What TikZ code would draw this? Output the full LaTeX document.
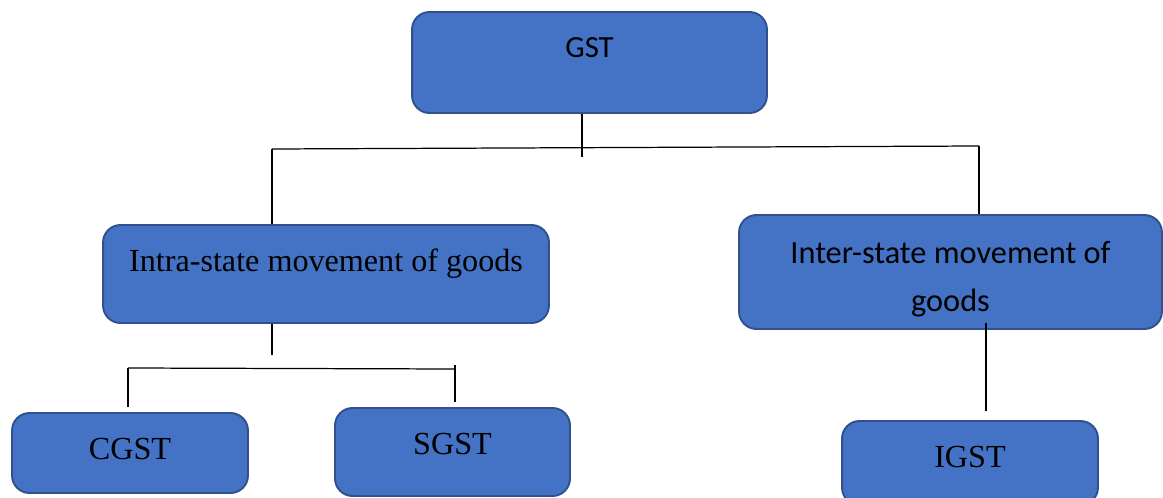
\documentclass[tikz,border=0pt]{standalone}
\usepackage{fontspec}
\setmainfont{Liberation Serif}
\newfontfamily\calibri{Carlito}
\definecolor{boxblue}{HTML}{4472C4}
\definecolor{boxedge}{HTML}{2F528F}

\begin{document}
\begin{tikzpicture}[x=0.02cm, y=-0.02cm,
    box/.style={draw=boxedge, fill=boxblue, line width=1.1pt, rounded corners=0.35cm, inner sep=0pt},
    sanslabel/.style={font=\calibri\fontsize{17.5}{27}\selectfont},
    seriflabel/.style={font=\fontsize{18.3}{22}\selectfont, text height=0.43cm},
    wire/.style={black, line width=0.7pt}]
    \clip (0,0) rectangle (1163,497);
    \node[box, sanslabel, text height=0.39cm, text depth=0.58cm, minimum width=7.1cm, minimum height=2.02cm] (gst) at (589.5,62.5) {GST};
    \node[box, seriflabel, text depth=0.55cm, minimum width=8.92cm, minimum height=1.96cm] (intra) at (326,274) {Intra-state movement of goods};
    \node[box, sanslabel, font=\calibri\fontsize{18.4}{27.2}\selectfont, align=center, minimum width=8.46cm, minimum height=2.28cm] (inter) at (950.5,272) {\rule{0pt}{0.72cm}Inter-state movement of\\goods};
    \node[box, seriflabel, text depth=0.19cm, minimum width=4.72cm, minimum height=1.6cm] (cgst) at (130,453) {CGST};
    \node[box, seriflabel, text depth=0.35cm, minimum width=4.7cm, minimum height=1.76cm] (sgst) at (452.5,452) {SGST};
    \node[box, seriflabel, text depth=0.27cm, minimum width=5.12cm, minimum height=1.68cm] (igst) at (970,463) {IGST};
    \coordinate (gstdrop) at (582,157);
    \coordinate (topleft) at (272,149);
    \coordinate (topright) at (979,146);
    \coordinate (intradrop) at (272,355);
    \coordinate (lowleft) at (128,368);
    \coordinate (lowright) at (455,369);
    \coordinate (cgstend) at (128,407);
    \coordinate (sgsttop) at (455,365);
    \coordinate (sgstend) at (455,402);
    \coordinate (igstend) at (986,411);
    \draw[wire] (gst.south -| gstdrop) -- (gstdrop);
    \draw[wire] (topleft) -- (topright);
    \draw[wire] (topleft) -- (intra.north -| topleft);
    \draw[wire] (topright) -- (inter.north -| topright);
    \draw[wire] (intra.south -| intradrop) -- (intradrop);
    \draw[wire] (lowleft) -- (lowright);
    \draw[wire] (lowleft) -- (cgstend);
    \draw[wire] (sgsttop) -- (sgstend);
    \draw[wire] ([yshift=0.14cm]inter.south -| igstend) -- (igstend);
\end{tikzpicture}
\end{document}
